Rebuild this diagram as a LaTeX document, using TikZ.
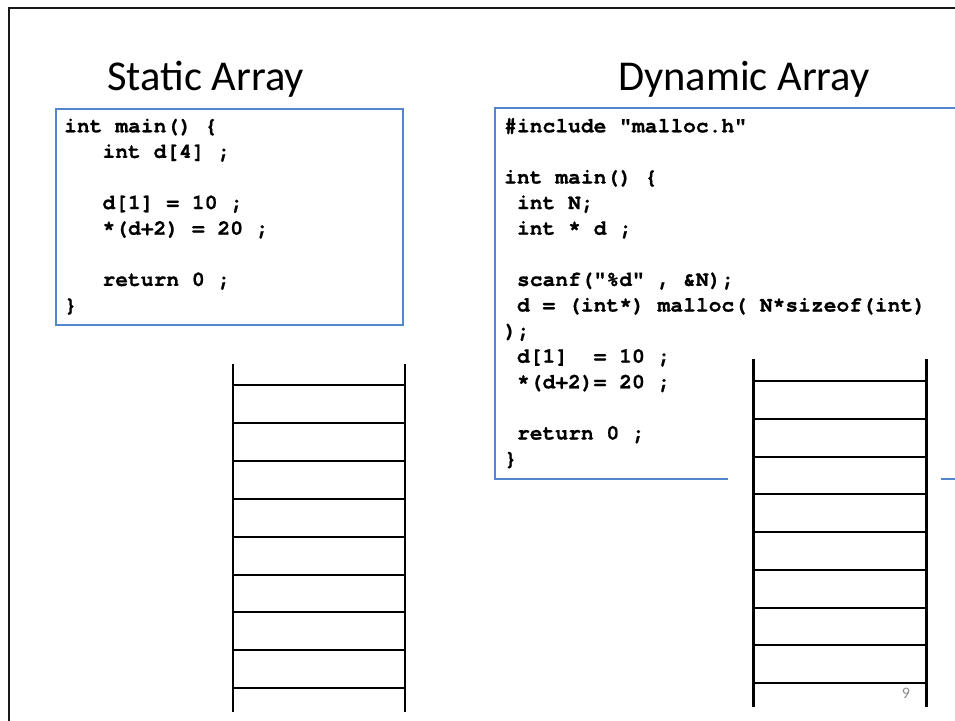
\documentclass[tikz,border=0pt]{standalone}
\usepackage{fontspec}
\setmainfont{Carlito}
\newfontfamily\codefont{TeX Gyre Cursor}[BoldFeatures={FakeBold=0.8}]
\definecolor{boxblue}{RGB}{84,134,204}
\definecolor{pagegray}{RGB}{140,140,140}
\tikzset{
  frame/.style={draw=black!90, line width=2.5pt},
  codebox/.style={draw=boxblue, line width=1.5pt},
  title/.style={anchor=base west, inner sep=0pt, font=\fontsize{42.5}{50}\selectfont},
  code/.style={anchor=base west, inner sep=0pt,
    font=\codefont\bfseries\fontsize{21.3}{25.6}\selectfont\frenchspacing},
  rail/.style={line width=2.8pt},
  cell/.style={line width=2pt},
}
\begin{document}
\begin{tikzpicture}[x=1pt,y=-1pt]
\useasboundingbox (0,0) rectangle (955,720);
\clip (0,0) rectangle (955,720);

% slide frame
\draw[frame] (9,8) rectangle (1100,900);

% titles
\node[title] (tstatic) at (107,90) {Static Array};
\node[title] (tdynamic) at (618,90) {Dynamic Array};

% static array code
\draw[codebox] (56,109) rectangle (403,325);
\node[code] (s1) at (64,132.3) {int main() \{};
\node[code] (s2) at (102.3,157.9) {int d[4] ;};
\node[code] (s3) at (102.3,209.1) {d[1] = 10 ;};
\node[code] (s4) at (102.3,234.7) {*(d+2) = 20 ;};
\node[code] (s5) at (102.3,285.9) {return 0 ;};
\node[code] (s6) at (64,311.5) {\}};

% dynamic array code
\draw[codebox] (495,108) rectangle (1100,479);
\node[code] (d1) at (504,132.3) {\#include "malloc.h"};
\node[code] (d2) at (504,183.5) {int main() \{};
\node[code] (d3) at (516.8,209.1) {int N;};
\node[code] (d4) at (516.8,234.7) {int * d ;};
\node[code] (d5) at (516.8,285.9) {scanf("\%d" , \&N);};
\node[code] (d6) at (516.8,311.5) {d = (int*) malloc( N*sizeof(int)};
\node[code] (d7) at (504,337.1) {);};
\node[code] (d8) at (516.8,362.7) {d[1]~~= 10 ;};
\node[code] (d9) at (516.8,388.3) {*(d+2)= 20 ;};
\node[code] (d10) at (516.8,439.5) {return 0 ;};
\node[code] (d11) at (504,465.1) {\}};

% static stack
\draw[rail] (233,364) -- (233,712);
\draw[rail] (405,364) -- (405,712);
\foreach \k in {0,...,8}
  \draw[cell] (233,385+37.9*\k) -- (405,385+37.9*\k);

% dynamic stack on a white backing
\fill[white] (728,352) rectangle (941,715);
\draw[rail] (753.5,359) -- (753.5,707);
\draw[rail] (926.5,359) -- (926.5,707);
\foreach \k in {0,...,8}
  \draw[cell] (753.5,381+37.75*\k) -- (926.5,381+37.75*\k);

% page number
\node[text=pagegray, font=\fontsize{16}{19}\selectfont, inner sep=0pt] (pnum) at (906,693.5) {9};
\end{tikzpicture}
\end{document}
